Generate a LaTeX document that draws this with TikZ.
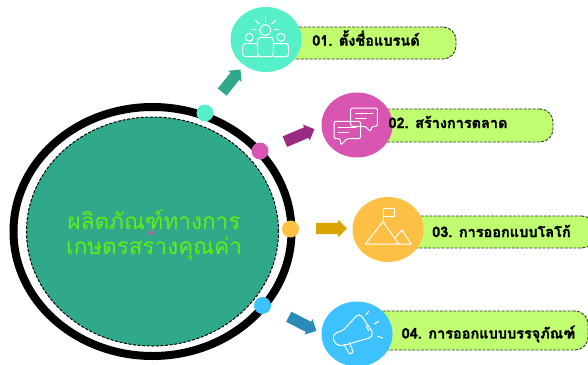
\documentclass[tikz,border=0pt]{standalone}
\usepackage{fontspec}
\newfontfamily\thaifont[Script=Thai]{Loma}
\newfontfamily\thaibold[Script=Thai,FakeBold=1.6]{Loma Bold}
\usetikzlibrary{shapes.geometric, shapes.arrows}
\definecolor{tealbody}{HTML}{30A88A}
\definecolor{leaf}{HTML}{C0FD70}
\definecolor{headline}{HTML}{66EE10}
\definecolor{mint}{HTML}{55EFC9}
\definecolor{pinkish}{HTML}{D856B2}
\definecolor{amber}{HTML}{FDC045}
\definecolor{sky}{HTML}{3EC1FF}
\definecolor{plum}{HTML}{9B2A82}
\definecolor{ochre}{HTML}{D9A404}
\definecolor{steel}{HTML}{2A8AB8}
\begin{document}
\begin{tikzpicture}[
    x=1pt, y=-1pt,
    ring/.style={ellipse, draw=black, line width=8pt, fill=white, inner sep=0pt, minimum width=278pt, minimum height=249pt},
    core/.style={ellipse, draw=black, dash pattern=on 3pt off 1.6pt, line width=1pt, fill=tealbody, inner sep=0pt, minimum width=252pt, minimum height=229pt},
    dot/.style={circle, inner sep=0pt, minimum size=17pt},
    badge/.style={ellipse, inner sep=0pt, minimum width=71pt, minimum height=65pt},
    pill/.style={rectangle, rounded corners=13pt, draw=black!80, dash pattern=on 3pt off 1.4pt, line width=0.9pt, fill=leaf, inner sep=0pt},
    title/.style={font=\thaibold\fontsize{14.5}{16}\selectfont, inner sep=0pt},
    pointer/.style={single arrow, inner sep=0pt, single arrow head extend=3pt},
    icon/.style={draw=white, line width=1pt, line join=round, line cap=round}
]
    \useasboundingbox (0,0) rectangle (588,364);

    % Main Circle
    \node[ring] (outer) at (152.5,231.5) {};
    \node[core] (inner) at (152.5,231.5) {};
    \node[font=\thaifont\fontsize{22.5}{23}\selectfont, text=headline, align=center, inner sep=0pt] (headline) at (154,235) {ผลิตภัณฑ์ทางการ\\เกษตรสร{\color{pinkish}\char"0E49}างคุณค่า};

    % Ring Dots
    \node[dot, fill=mint] (dot1) at (205,113) {};
    \node[dot, fill=pinkish] (dot2) at (260,151) {};
    \node[dot, fill=amber] (dot3) at (290.5,229) {};
    \node[dot, fill=sky] (dot4) at (262.5,305.5) {};

    % Block Arrows
    \node[pointer, fill=tealbody, minimum height=29pt, rotate=51] (arrow1) at (229.5,83) {\rule{0pt}{11pt}};
    \node[pointer, fill=plum, minimum height=32pt, rotate=23] (arrow2) at (297,136.5) {\rule{0pt}{11pt}};
    \node[pointer, fill=ochre, minimum height=31pt] (arrow3) at (328.5,228.5) {\rule{0pt}{11pt}};
    \node[pointer, fill=steel, minimum height=31pt, rotate=-27] (arrow4) at (300,322.5) {\rule{0pt}{11pt}};

    % Label Bars
    \node[pill, minimum width=186pt, minimum height=32pt] (bar1) at (363,43) {};
    \node[pill, minimum width=193pt, minimum height=33pt] (bar2) at (456.5,125.5) {};
    \node[pill, minimum width=205pt, minimum height=32pt] (bar3) at (492.5,232) {};
    \node[pill, minimum width=228pt, minimum height=39pt] (bar4) at (474,330.5) {};

    % Badges
    \node[badge, fill=mint] (badge1) at (266,39.5) {};
    \node[badge, fill=pinkish] (badge2) at (357,125) {};
    \node[badge, fill=amber] (badge3) at (388,229.5) {};
    \node[badge, fill=sky] (badge4) at (357,334) {};

    % Label Texts
    \node[title] (label1) at (366,38) {01. ตั้งชื่อแบรนด์};
    \node[title] (label2) at (448,122) {02. สร้างการตลาด};
    \node[title] (label3) at (501.5,231) {03. การออกแบบโลโก้};
    \node[title] (label4) at (488.5,334) {04. การออกแบบบรรจุภัณฑ์};

    % Icon: people
    \draw[icon] (265.3,30) circle (5.5);
    \draw[icon] (249.3,37.3) circle (4);
    \draw[icon] (281,37.3) circle (4);
    \draw[icon] (265.3,17.5) -- (265.3,21.5);
    \draw[icon] (255.5,20.5) -- (259.5,24);
    \draw[icon] (275.5,20.5) -- (271.5,24);
    \draw[icon] (252,29) -- (256,29);
    \draw[icon] (278.5,29) -- (274.5,29);
    \draw[icon, rounded corners=3pt] (257.7,56.7) -- (257.7,37.3) -- (273.3,37.3) -- (273.3,56.7) -- cycle;
    \draw[icon, rounded corners=3pt] (257.7,43.5) -- (242.7,43.5) -- (242.7,56.7) -- (257.7,56.7);
    \draw[icon, rounded corners=3pt] (273.3,43.5) -- (288.7,43.5) -- (288.7,56.7) -- (273.3,56.7);

    % Icon: speech bubbles
    \draw[icon, rounded corners=1.5pt] (350.7,108) -- (377.3,108) -- (377.3,126.3) -- (372,126.3) -- (370.7,131.5) -- (365,126.3) -- (350.7,126.3) -- cycle;
    \draw[icon] (355.5,113.7) -- (373,113.7);
    \draw[icon] (355.5,118) -- (366,118);
    \draw[icon, rounded corners=1.5pt] (334,121.3) -- (360.7,121.3) -- (360.7,138.7) -- (347,138.7) -- (340.7,145.3) -- (340.3,138.7) -- (334,138.7) -- cycle;
    \draw[icon] (338,127.3) -- (356,127.3);
    \draw[icon] (338,132) -- (348.7,132);

    % Icon: mountain flag
    \draw[icon] (383,221.7) -- (383,208.5) -- (394.7,208.5) -- (394.7,216) -- (383,216);
    \draw[icon] (365.3,244) -- (383,221.7) -- (398.7,244);
    \draw[icon] (395.3,237.3) -- (402,230) -- (411.3,244) -- (365.3,244);

    % Icon: megaphone
    \draw[icon, rounded corners=2pt] (357.7,314.7) -- (342.7,330.7) -- (335,333) -- (332.7,339) -- (337.7,345.7) -- (345,345) -- (371,337.5) -- (373,333) -- (361,315) -- cycle;
    \draw[icon, rounded corners=1pt] (344.3,344.5) -- (349.3,354) -- (353.3,352.3) -- (349.5,342.5);
    \draw[icon] (366,325.7) -- (368.7,330.7);
    \draw[icon] (366,314.7) -- (368.7,311.3);
    \draw[icon] (374.3,324) -- (378.7,321.3);
    \draw[icon] (377.7,336.3) -- (382.7,338);
\end{tikzpicture}
\end{document}
